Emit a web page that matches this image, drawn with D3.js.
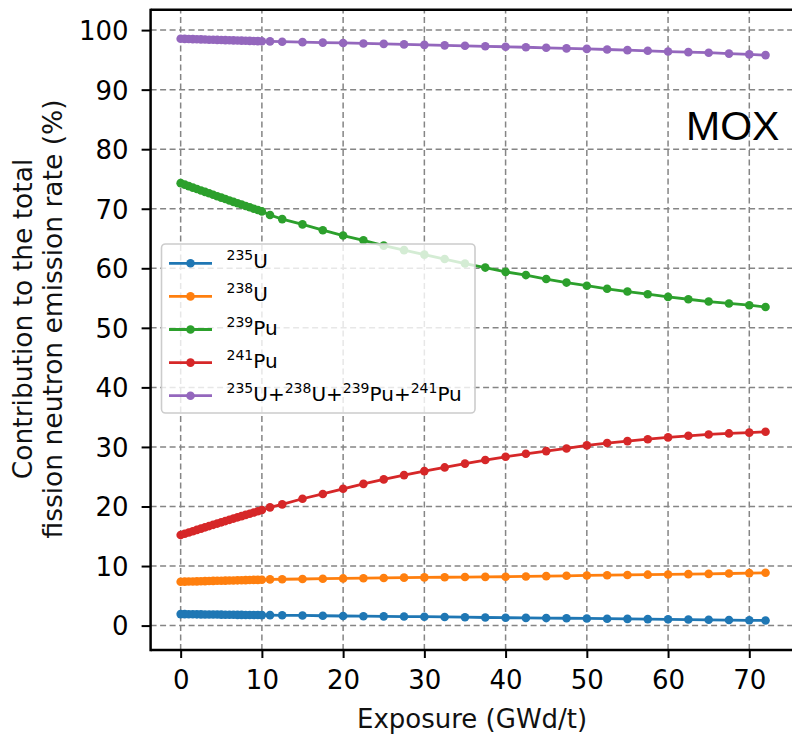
<!DOCTYPE html>
<html><head><meta charset="utf-8">
<script src="https://cdn.jsdelivr.net/npm/d3@7"></script>
<style>body{margin:0;background:#fff}svg{display:block}</style>
</head><body><svg id="c" width="792" height="734"></svg>
<script>
// ---- data ----
const exposure = [0,0.5,1,1.5,2,2.5,3,3.5,4,4.5,5,5.5,6,6.5,7,7.5,8,8.5,9,9.5,10,
  11,12.5,15,17.5,20,22.5,25,27.5,30,32.5,35,37.5,40,42.5,45,47.5,50,52.5,55,57.5,60,62.5,65,67.5,70,72];
const u235 = [1.93,1.92,1.91,1.90,1.89,1.88,1.87,1.86,1.86,1.85,1.84,1.83,1.82,1.81,1.80,1.80,1.79,1.78,1.77,1.77,1.76,
  1.75,1.73,1.70,1.65,1.61,1.58,1.55,1.52,1.49,1.45,1.41,1.36,1.32,1.29,1.26,1.23,1.20,1.16,1.13,1.09,1.05,1.01,0.97,0.93,0.89,0.86];
const u238 = [7.36,7.38,7.40,7.41,7.43,7.45,7.47,7.48,7.50,7.52,7.53,7.55,7.57,7.58,7.60,7.62,7.63,7.65,7.67,7.68,7.70,
  7.76,7.78,7.82,7.87,7.92,7.96,8.00,8.05,8.09,8.12,8.15,8.18,8.20,8.25,8.30,8.36,8.42,8.46,8.50,8.55,8.59,8.64,8.69,8.75,8.81,8.86];
const pu239 = [74.30,74.05,73.80,73.55,73.31,73.07,72.83,72.59,72.35,72.11,71.87,71.63,71.39,71.16,70.93,70.70,70.47,70.24,70.01,69.78,69.55,
  68.95,68.26,67.37,66.40,65.50,64.70,63.80,63.05,62.30,61.55,60.80,60.12,59.40,58.86,58.20,57.60,57.07,56.56,56.10,55.65,55.20,54.80,54.42,54.10,53.80,53.50];
const pu241 = [15.20,15.42,15.64,15.85,16.07,16.28,16.50,16.71,16.92,17.13,17.34,17.55,17.76,17.97,18.18,18.38,18.59,18.79,18.99,19.19,19.40,
  19.85,20.35,21.30,22.10,22.97,23.80,24.55,25.27,25.94,26.56,27.20,27.80,28.35,28.85,29.30,29.75,30.26,30.65,30.98,31.30,31.60,31.87,32.10,32.27,32.40,32.55];
const total = [98.55,98.53,98.50,98.48,98.46,98.44,98.42,98.39,98.37,98.35,98.33,98.31,98.29,98.27,98.25,98.23,98.21,98.19,98.17,98.15,98.13,
  98.10,98.05,97.98,97.90,97.84,97.76,97.69,97.60,97.52,97.44,97.36,97.28,97.20,97.12,97.03,96.93,96.84,96.74,96.63,96.52,96.40,96.30,96.20,96.05,95.92,95.80];

const seriesValues = [u235, u238, pu239, pu241, total];
const seriesColors = ["#1f77b4", "#ff7f0e", "#2ca02c", "#d62728", "#9467bd"];
// legend labels: list of [superscript, base] parts joined by "+"
const legendLabels = [
  [["235","U"]],
  [["238","U"]],
  [["239","Pu"]],
  [["241","Pu"]],
  [["235","U"],["238","U"],["239","Pu"],["241","Pu"]]
];
const xTicks = [0,10,20,30,40,50,60,70];
const yTicks = [0,10,20,30,40,50,60,70,80,90,100];
const xLabel = "Exposure (GWd/t)";
const yLabelLines = ["Contribution to the total", "fission neutron emission rate (%)"];
const annotation = "MOX";

// ---- layout ----
const svg = d3.select("#c");
const x = d3.scaleLinear().domain([-3.7, 75.7]).range([150.6, 795.6]);
const y = d3.scaleLinear().domain([-4.1, 103.4]).range([650, 9.85]);
const [X0, X1] = x.range();
const [Y0, Y1] = y.range();
const FONT = "DejaVu Sans, sans-serif";

svg.append("rect").attr("width", 792).attr("height", 734).attr("fill", "#fff");

// grid
const grid = svg.append("g").attr("stroke", "#858585").attr("stroke-width", 1.5)
  .attr("stroke-dasharray", "6,3.5");
grid.selectAll(".gx").data(xTicks).enter().append("line")
  .attr("x1", d => x(d)).attr("x2", d => x(d)).attr("y1", Y0).attr("y2", Y1);
grid.selectAll(".gy").data(yTicks).enter().append("line")
  .attr("y1", d => y(d)).attr("y2", d => y(d)).attr("x1", X0).attr("x2", X1);

// series
const line = d3.line().x((d, i) => x(exposure[i])).y(d => y(d));
seriesValues.forEach((vals, si) => {
  const g = svg.append("g");
  g.append("path").datum(vals).attr("d", line).attr("fill", "none")
    .attr("stroke", seriesColors[si]).attr("stroke-width", 2.8);
  g.selectAll("circle").data(vals).enter().append("circle")
    .attr("cx", (d, i) => x(exposure[i])).attr("cy", d => y(d)).attr("r", 4.3)
    .attr("fill", seriesColors[si]);
});

// spines
const sp = svg.append("g").attr("stroke", "#000").attr("stroke-width", 2.5);
sp.append("line").attr("x1", X0).attr("x2", X0).attr("y1", Y0 + 1.2).attr("y2", Y1 - 1.2);
sp.append("line").attr("x1", X0).attr("x2", X1).attr("y1", Y1).attr("y2", Y1);
sp.append("line").attr("x1", X0).attr("x2", X1).attr("y1", Y0).attr("y2", Y0);
sp.append("line").attr("x1", X1).attr("x2", X1).attr("y1", Y0).attr("y2", Y1);

// axes via d3
const xAxis = d3.axisBottom(x).tickValues(xTicks).tickSize(8).tickPadding(6).tickFormat(d3.format("d"));
const yAxis = d3.axisLeft(y).tickValues(yTicks).tickSize(9).tickPadding(12).tickFormat(d3.format("d"));
const gx = svg.append("g").attr("transform", `translate(0,${Y0})`).call(xAxis);
const gy = svg.append("g").attr("transform", `translate(${X0},0)`).call(yAxis);
[gx, gy].forEach(g => {
  g.select(".domain").remove();
  g.selectAll(".tick line").attr("stroke", "#000").attr("stroke-width", 2);
  g.selectAll(".tick text").attr("fill", "#000").attr("font-family", FONT).attr("font-size", 26);
});
gx.selectAll(".tick text").attr("dy", "0.71em").attr("y", 21);
gy.selectAll(".tick text").attr("x", -22).attr("dy", "0.36em");

// axis labels
svg.append("text").attr("x", (X0 + 795.6) / 2 - 1).attr("y", 728)
  .attr("text-anchor", "middle").attr("font-family", FONT).attr("font-size", 26)
  .attr("fill", "#111").text(xLabel);
const yl = svg.append("text").attr("transform", "translate(32,319) rotate(-90)")
  .attr("text-anchor", "middle").attr("font-family", FONT).attr("font-size", 26.5).attr("fill", "#111");
yLabelLines.forEach((t, i) => {
  yl.append("tspan").attr("x", 0).attr("y", i * 30).text(t);
});

// annotation
svg.append("text").attr("x", 686).attr("y", 140).attr("font-family", "Liberation Sans, Arial, sans-serif")
  .attr("font-size", 41).attr("fill", "#000").text(annotation);

// legend
const lg = svg.append("g");
lg.append("rect").attr("x", 161.5).attr("y", 244).attr("width", 313.5).attr("height", 169)
  .attr("rx", 4).attr("fill", "#fff").attr("fill-opacity", 0.8)
  .attr("stroke", "#cccccc").attr("stroke-width", 1.6);
const rowY = i => 263.3 + i * 33.1;
legendLabels.forEach((parts, i) => {
  const yy = rowY(i);
  lg.append("line").attr("x1", 169).attr("x2", 212).attr("y1", yy).attr("y2", yy)
    .attr("stroke", seriesColors[i]).attr("stroke-width", 2.8);
  lg.append("circle").attr("cx", 190.5).attr("cy", yy).attr("r", 4.3).attr("fill", seriesColors[i]);
  const t = lg.append("text").attr("x", 226.5).attr("y", yy + 5).attr("font-family", FONT)
    .attr("font-size", 20).attr("fill", "#000");
  parts.forEach((p, k) => {
    if (k > 0) t.append("tspan").attr("font-size", 20).text("+");
    t.append("tspan").attr("font-size", 14).attr("dy", -8).text(p[0]);
    t.append("tspan").attr("font-size", 20).attr("dy", 8).text(p[1]);
  });
});
</script></body></html>
